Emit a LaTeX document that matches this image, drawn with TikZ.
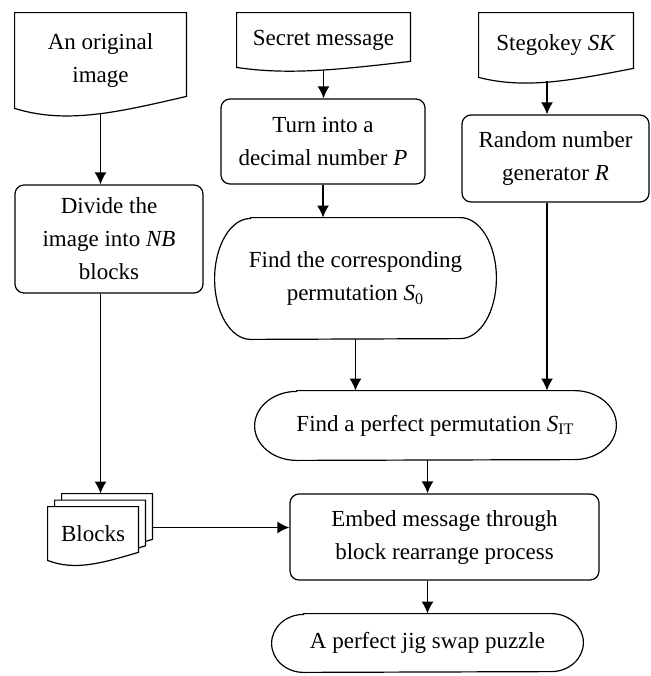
\documentclass[tikz,border=0pt]{standalone}
\usepackage{fontspec}
\setmainfont{Liberation Serif}
\usetikzlibrary{arrows.meta}
\usetikzlibrary{calc}

% document symbol: flat top, wavy bottom
\newcommand\docwave[3][]{%
  \draw[docline,#1] (#2.north west) -- (#2.north east)
    -- ([yshift={6pt*#3}]#2.south east)
    .. controls ([yshift={-2pt*#3}]$(#2.south west)!0.6!(#2.south east)$)
    and ([yshift={-8pt*#3}]$(#2.south west)!0.3!(#2.south east)$) .. (#2.south west)
    -- cycle;}
% terminal symbol: straight top and bottom, half ellipse ends
\newcommand\ovalend[3]{%
  \draw[docline] ([xshift=#2]#1.north west) -- ([xshift=-#2]#1.north east)
    arc[start angle=90, end angle=-90, x radius=#2, y radius=#3]
    -- ([xshift=#2]#1.south west)
    arc[start angle=270, end angle=90, x radius=#2, y radius=#3] -- cycle;}

\tikzset{
  every node/.style={font=\fontsize{11.5}{16.5}\selectfont, align=center, inner sep=0pt},
  docline/.style={line width=0.6pt},
  procbox/.style={draw, docline, rounded corners=4.5pt},
  arr/.style={line width=0.8pt, -{Latex[length=6pt,width=6pt]}},
}

\begin{document}
\begin{tikzpicture}[x=0.5pt, y=-0.5pt]

        \useasboundingbox (0,0) rectangle (650,676);

        % inputs
        \node [minimum width=85.5pt, minimum height=47.5pt] (orig) at (100.5,60.5) {An original\\image};
        \node [minimum width=86.5pt, minimum height=27pt] (secret) at (323.5,40) {Secret message};
        \node [minimum width=77pt, minimum height=32pt] (steg) at (556,45) {Stegokey \textit{SK}};
        \docwave{orig}{1}
        \docwave{secret}{0.5}
        \docwave{steg}{0.75}

        % processes
        \node [procbox, minimum width=94pt, minimum height=54pt] (divide) at (109,239) {Divide the\\image into \textit{NB}\\blocks};
        \node [procbox, minimum width=102pt, minimum height=42.5pt] (turn) at (323,141.5) {Turn into a\\decimal number \textit{P}};
        \node [procbox, minimum width=93.5pt, minimum height=43.5pt] (rand) at (555.5,158.5) {Random number\\generator \textit{R}};
        \node [procbox, minimum width=154.5pt, minimum height=43pt] (embed) at (444.5,537) {Embed message through\\block rearrange process};

        % terminals
        \node [minimum width=140.5pt, minimum height=60.5pt] (findc) at (355.5,278.5) {Find the corresponding\\permutation \textit{S}\textsubscript{0}};
        \node [minimum width=180.5pt, minimum height=34.5pt] (findp) at (435.5,425.5) {Find a perfect permutation \textit{S}\textsubscript{IT}};
        \node [minimum width=155.5pt, minimum height=29pt] (jig) at (427.5,643) {A perfect jig swap puzzle};
        \ovalend{findc}{18pt}{30.25pt}
        \ovalend{findp}{21pt}{17.25pt}
        \ovalend{jig}{16pt}{14.5pt}

        % blocks, three sheets
        \node [minimum width=45pt, minimum height=26.5pt] (blkc) at (107,520.5) {};
        \node [minimum width=45pt, minimum height=26.5pt] (blkb) at (100,527) {};
        \node [minimum width=45pt, minimum height=26.5pt] (blka) at (93,533.5) {};
        \docwave[fill=white]{blkc}{0.67}
        \docwave[fill=white]{blkb}{0.67}
        \docwave[fill=white]{blka}{0.67}
        \node at (blka) {Blocks};

        \coordinate (colR) at ([xshift=-4.5pt]steg.south);

        \draw[arr] ([yshift=-3pt]orig.south) -- (orig.south |- divide.north);
        \draw[arr] (divide.south -| orig.south) -- (blkc.north -| orig.south);
        \draw[arr] ([yshift=-3.5pt]blkc.east) -- ([yshift=-3.5pt]blkc.east -| embed.west);

        \draw[arr] ([yshift=-1.5pt]secret.south) -- (secret.south |- turn.north);
        \draw[arr] (turn.south) -- (turn.south |- findc.north);
        \draw[arr] (findc.south) -- (findc.south |- findp.north);

        \draw[arr] ([yshift=-2pt]colR) -- (colR |- rand.north);
        \draw[arr] (colR |- rand.south) -- (colR |- findp.north);

        \draw[arr] (findp.south -| jig.north) -- (embed.north -| jig.north);
        \draw[arr] (embed.south -| jig.north) -- (jig.north);

      \end{tikzpicture}
\end{document}
